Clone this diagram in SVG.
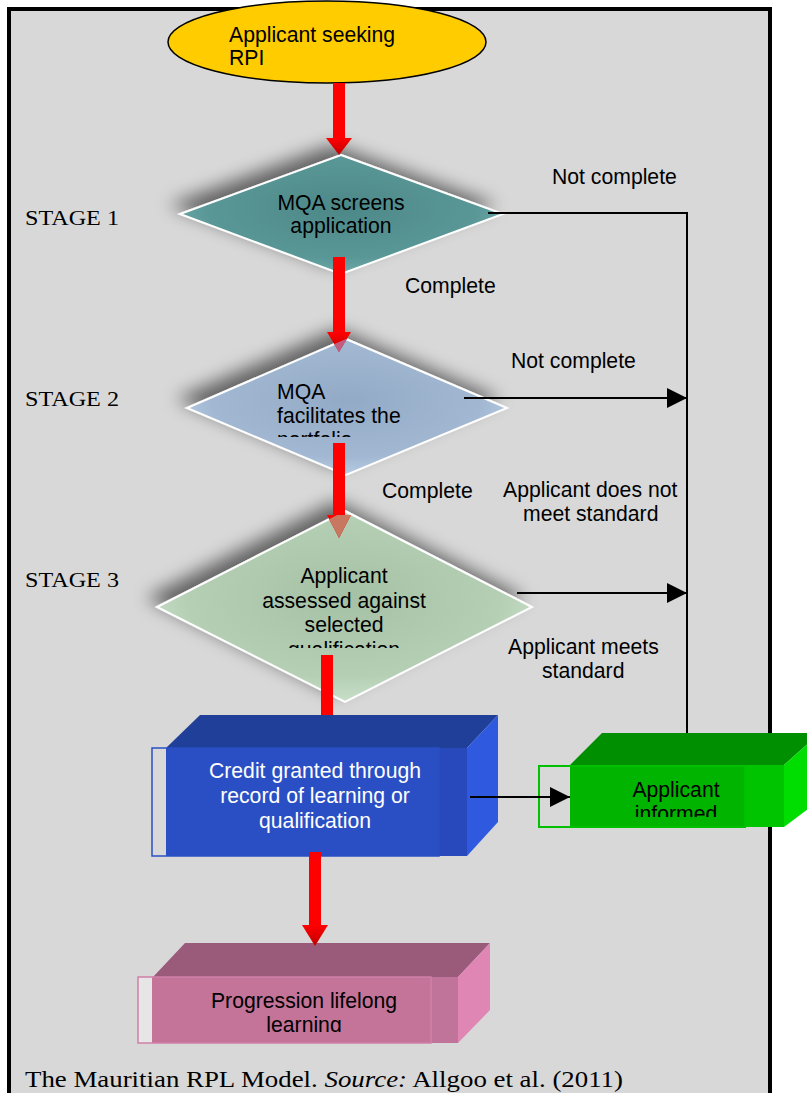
<svg xmlns="http://www.w3.org/2000/svg" width="807" height="1093" viewBox="0 0 807 1093">
<style>
.lbl{font-family:"Liberation Sans",Arial,sans-serif;font-size:21.2px;fill:#000}
.ctr{text-anchor:middle}
.wht{fill:#fff}
.stage{font-family:"Liberation Serif","Times New Roman",serif;font-size:22px;fill:#000}
.cap{font-family:"Liberation Serif","Times New Roman",serif;font-size:24px;fill:#000}
.conn{stroke:#000;stroke-width:2;fill:none}
.shaft{fill:#ff0000}
.head{fill:url(#redHead)}
.dia{stroke:#fff;stroke-width:2;filter:url(#shadow)}
</style>
<defs>
<linearGradient id="redHead" x1="0" y1="0" x2="0" y2="1">
<stop offset="0" stop-color="#ff0000"/>
<stop offset="1" stop-color="#c00000"/>
</linearGradient>
<radialGradient id="g1" cx="0.5" cy="0.45" r="0.6">
<stop offset="0" stop-color="#4d8888"/>
<stop offset="0.7" stop-color="#5a9797"/>
<stop offset="1" stop-color="#77b2b2"/>
</radialGradient>
<radialGradient id="g2" cx="0.5" cy="0.45" r="0.6">
<stop offset="0" stop-color="#93aac6"/>
<stop offset="0.7" stop-color="#a2b8d2"/>
<stop offset="1" stop-color="#bfd3ea"/>
</radialGradient>
<radialGradient id="g3" cx="0.5" cy="0.45" r="0.6">
<stop offset="0" stop-color="#a5c1a5"/>
<stop offset="0.7" stop-color="#b5cfb5"/>
<stop offset="1" stop-color="#cfe6cf"/>
</radialGradient>
<filter id="shadow" x="-20%" y="-30%" width="140%" height="160%">
<feGaussianBlur in="SourceAlpha" stdDeviation="9"/>
<feOffset dx="-9" dy="-9" result="b"/>
<feComponentTransfer><feFuncA type="linear" slope="0.55"/></feComponentTransfer>
<feMerge><feMergeNode/><feMergeNode in="SourceGraphic"/></feMerge>
</filter>
<marker id="arr" markerUnits="userSpaceOnUse" markerWidth="22" markerHeight="20" refX="20" refY="10" orient="auto">
<path d="M0,0 L20,10 L0,20 Z" fill="#000"/>
</marker>
<clipPath id="clipD2"><polygon points="346,339 507,408 346,475 187,408"/></clipPath>
<clipPath id="clipD3"><polygon points="345,511 532,607 345,702 157,607"/></clipPath>
<clipPath id="clipT2"><rect x="180" y="330" width="330" height="107"/></clipPath>
<clipPath id="clipT3"><rect x="150" y="500" width="390" height="148"/></clipPath>
<clipPath id="clipT4"><rect x="560" y="760" width="200" height="57"/></clipPath>
<clipPath id="clipT5"><rect x="140" y="970" width="320" height="62"/></clipPath>
</defs>

<g id="frame">
<rect x="9" y="9" width="761" height="1110" fill="#d8d8d8" stroke="#000" stroke-width="4"/>
</g>

<g id="stages">
<text class="stage" x="25" y="225" textLength="94" lengthAdjust="spacingAndGlyphs">STAGE 1</text>
<text class="stage" x="25" y="406" textLength="94" lengthAdjust="spacingAndGlyphs">STAGE 2</text>
<text class="stage" x="25" y="587" textLength="94" lengthAdjust="spacingAndGlyphs">STAGE 3</text>
</g>

<g id="start">
<ellipse cx="327" cy="42" rx="159" ry="41" fill="#ffcc00" stroke="#000" stroke-width="1.5"/>
<text class="lbl" x="229" y="42">Applicant seeking</text>
<text class="lbl" x="229" y="65">RPI</text>
</g>

<g id="stage1">
<polygon class="dia" points="341,155 503,214 341,274 180,214" fill="url(#g1)"/>
<text class="lbl ctr" x="341" y="210">MQA screens</text>
<text class="lbl ctr" x="341" y="233">application</text>
</g>

<g id="stage2">
<polygon class="dia" points="346,339 507,408 346,475 187,408" fill="url(#g2)"/>
<g clip-path="url(#clipT2)">
<text class="lbl" x="277" y="399">MQA</text>
<text class="lbl" x="277" y="423">facilitates the</text>
<text class="lbl" x="277" y="447">portfolio</text>
</g>
</g>

<g id="stage3">
<polygon class="dia" points="345,511 532,607 345,702 157,607" fill="url(#g3)"/>
<g clip-path="url(#clipT3)">
<text class="lbl ctr" x="344" y="583">Applicant</text>
<text class="lbl ctr" x="344" y="608">assessed against</text>
<text class="lbl ctr" x="344" y="632">selected</text>
<text class="lbl ctr" x="344" y="657">qualification</text>
</g>
</g>

<g id="credit">
<polygon points="166,748 200,715 498,715 467,748" fill="#203f99"/>
<polygon points="467,748 498,715 498,822 467,856" fill="#2f5ae0"/>
<rect x="166" y="748" width="273" height="108" fill="#2a4fc4"/>
<rect x="439" y="748" width="28" height="108" fill="#2749bb"/>
<rect x="152" y="748" width="287" height="108" fill="none" stroke="#2a4fc4" stroke-width="1.5"/>
<text class="lbl ctr wht" x="315" y="778">Credit granted through</text>
<text class="lbl ctr wht" x="315" y="803">record of learning or</text>
<text class="lbl ctr wht" x="315" y="828">qualification</text>
</g>

<g id="informed">
<polygon points="570,765 602,733 820,733 784,765" fill="#008f00"/>
<polygon points="784,765 820,733 820,800 784,827" fill="#00dd00"/>
<rect x="570" y="765" width="175" height="62" fill="#00b400"/>
<rect x="745" y="765" width="39" height="62" fill="#00c400"/>
<rect x="539" y="766" width="206" height="61" fill="none" stroke="#00c000" stroke-width="2"/>
<g clip-path="url(#clipT4)">
<text class="lbl ctr" x="676" y="797">Applicant</text>
<text class="lbl ctr" x="676" y="821">informed</text>
</g>
</g>

<g id="progression">
<polygon points="153,977 185,943 490,943 458,977" fill="#9a5a7a"/>
<polygon points="458,977 490,943 490,1010 458,1043" fill="#df86b4"/>
<rect x="138" y="977" width="293" height="66" fill="#e6e6e6"/>
<rect x="152" y="977" width="279" height="66" fill="#c47399"/>
<rect x="431" y="977" width="27" height="66" fill="#c0749a"/>
<rect x="138" y="977" width="293" height="66" fill="none" stroke="#d080a8" stroke-width="1.5"/>
<g clip-path="url(#clipT5)">
<text class="lbl ctr" x="304" y="1008">Progression lifelong</text>
<text class="lbl ctr" x="304" y="1032">learning</text>
</g>
</g>

<g id="connectors">
<rect class="shaft" x="333" y="83" width="12" height="56"/>
<polygon class="head" points="326,138 352,138 339,155"/>
<rect class="shaft" x="333" y="257" width="12" height="76"/>
<polygon class="head" points="327,332 351,332 339,352"/>
<polygon points="327,332 351,332 339,352" fill="#c06080" clip-path="url(#clipD2)"/>
<rect class="shaft" x="333" y="443" width="12" height="72"/>
<polygon class="head" points="327,515 351,515 339,538"/>
<polygon points="327,515 351,515 339,538" fill="#c87860" clip-path="url(#clipD3)"/>
<rect class="shaft" x="321" y="655" width="12" height="60"/>
<rect class="shaft" x="309" y="852" width="12" height="74"/>
<polygon class="head" points="302,925 328,925 315,946"/>
<polyline class="conn" points="488,213 687,213 687,733"/>
<line class="conn" x1="464" y1="398" x2="687" y2="398" marker-end="url(#arr)"/>
<line class="conn" x1="517" y1="593" x2="687" y2="593" marker-end="url(#arr)"/>
<line class="conn" x1="470" y1="797" x2="570" y2="797" marker-end="url(#arr)"/>
</g>

<g id="labels">
<text class="lbl" x="552" y="184">Not complete</text>
<text class="lbl" x="405" y="293">Complete</text>
<text class="lbl" x="511" y="368">Not complete</text>
<text class="lbl" x="382" y="498">Complete</text>
<text class="lbl" x="503" y="497">Applicant does not</text>
<text class="lbl" x="523" y="521">meet standard</text>
<text class="lbl" x="508" y="654">Applicant meets</text>
<text class="lbl" x="542" y="678">standard</text>
</g>

<g id="caption">
<text class="cap" x="25" y="1087" textLength="598" lengthAdjust="spacingAndGlyphs">The Mauritian RPL Model. <tspan font-style="italic">Source:</tspan> Allgoo et al. (2011)</text>
</g>
</svg>
